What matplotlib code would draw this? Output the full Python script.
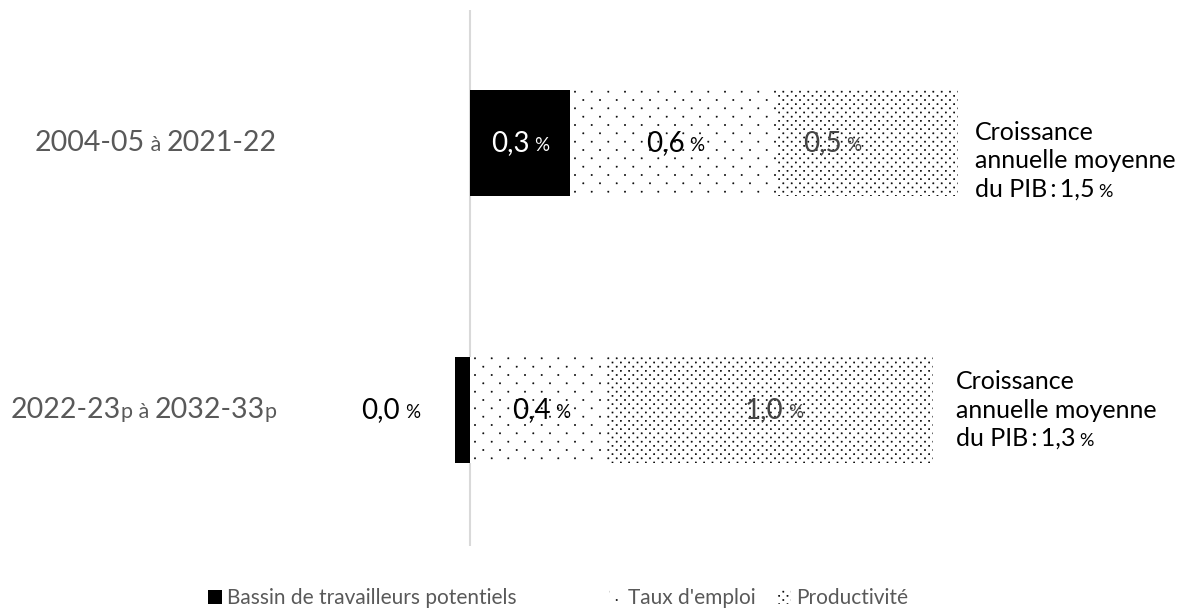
import numpy as np
import matplotlib
matplotlib.use("Agg")
import matplotlib.pyplot as plt
from matplotlib import hatch as mhatch
from matplotlib.path import Path
from matplotlib.offsetbox import TextArea, HPacker, VPacker, AnnotationBbox
from matplotlib.patches import Patch

plt.rcParams["font.family"] = ["Lato", "DejaVu Sans"]
plt.rcParams["hatch.linewidth"] = 0.4

# Data: contributions to average annual GDP growth (percentage points)
periods = [("2004-05", "à", "2021-22", ""), ("2022-23", "à", "2032-33", "p")]
bassin = [0.30, -0.045]       # Bassin de travailleurs potentiels
taux_emploi = [0.62, 0.41]    # Taux d'emploi
productivite = [0.545, 0.98]  # Productivité
series_names = ["Bassin de travailleurs potentiels", "Taux d'emploi", "Productivité"]

GRAY = "#595959"


class StaggeredDots(mhatch.HatchPatternBase):
    """Small square dots: n per inch along a row, 2n staggered rows per inch."""

    def __init__(self, hatch, density):
        self.n = hatch.count(".") * density
        if self.n:
            rows = 2 * self.n
            self.num_shapes = (rows // 2 + 1) * (self.n + 1) + (rows // 2) * self.n
        else:
            self.num_shapes = 0
        self.num_vertices = self.num_shapes * 5

    def set_vertices_and_codes(self, vertices, codes):
        n = self.n
        rows = 2 * n
        d = 0.0055
        square = np.array([[-d, -d], [d, -d], [d, d], [-d, d], [-d, -d]])
        square_codes = [Path.MOVETO, Path.LINETO, Path.LINETO, Path.LINETO, Path.CLOSEPOLY]
        k = 0
        for r in range(rows + 1):
            y = r / rows
            if r % 2 == 0:
                xs = np.linspace(0, 1, n + 1)
            else:
                xs = np.linspace(0.5 / n, 1 - 0.5 / n, n)
            for x in xs:
                vertices[k:k + 5] = square + (x, y)
                codes[k:k + 5] = square_codes
                k += 5


mhatch._hatch_types = [StaggeredDots if t is mhatch.SmallFilledCircles else t
                       for t in mhatch._hatch_types]


def fmt(v):
    r = round(v, 1)
    if r == 0:
        r = 0.0
    return f"{abs(r):.1f}".replace(".", ",")


def rich(pieces, sep=0):
    areas = [TextArea(t, textprops=dict(fontsize=s, color=c)) for t, s, c in pieces]
    return HPacker(children=areas, align="baseline", pad=0, sep=sep)


fig = plt.figure(figsize=(11.86, 6.12), dpi=100)
ax = fig.add_axes([0, 0, 1, 1])
ax.set_axis_off()

# 333 px per percentage point, zero line at 470 px
ax.set_xlim(-470 / 333, (1186 - 470) / 333)
ax.set_ylim((612 - 143) / 267, -143 / 267)

ypos = list(range(len(bassin)))
h = 0.40

# zero line
ax.plot([0, 0], [-0.50, 1.51], color="#d9d9d9", lw=1.5, zorder=1, solid_capstyle="butt")

ax.barh(ypos, bassin, height=h, color="black", lw=0, zorder=2)
left2 = [max(b, 0) for b in bassin]
ax.barh(ypos, taux_emploi, left=left2, height=h, color="white",
        edgecolor="black", hatch=".", lw=0, zorder=2)
left3 = [l + t for l, t in zip(left2, taux_emploi)]
ax.barh(ypos, productivite, left=left3, height=h, color="white",
        edgecolor="black", hatch="..", lw=0, zorder=2)

# label nudges (pixels) for [bassin, taux, productivité] in each row
label_nudge = [[0, 2, -35], [0, 3, 4]]
note_offsets = [(17, -18), (23, 0)]

for i in ypos:
    # segment value labels
    segs = [(0, bassin[i], "white"),
            (left2[i], taux_emploi[i], "black"),
            (left3[i], productivite[i], "#444444")]
    for j, (start, val, col) in enumerate(segs):
        if val >= 0.1:
            xy, align, off = (start + val / 2, i), (0.5, 0.5), (label_nudge[i][j], 0)
        else:
            col = "black"
            xy, align, off = (min(val, 0), i), (1.0, 0.5), (-35, 0)
        box = rich([(fmt(val), 20, col), ("%", 13.5, col)], sep=3.5)
        ax.add_artist(AnnotationBbox(box, xy, xybox=off, xycoords="data",
                                     boxcoords="offset pixels", box_alignment=align,
                                     frameon=False, pad=0, zorder=5))

    # average GDP growth note on the right
    total = bassin[i] + taux_emploi[i] + productivite[i]
    end = left3[i] + productivite[i]
    lines = [rich([("Croissance", 18, "black")]),
             rich([("annuelle moyenne", 18, "black")]),
             rich([(f"du PIB\u2009:\u2009{fmt(total)}", 18, "black"), ("%", 13, "black")],
                  sep=3)]
    vbox = VPacker(children=lines, align="left", pad=0, sep=4)
    ax.add_artist(AnnotationBbox(vbox, (end, i), xybox=note_offsets[i], xycoords="data",
                                 boxcoords="offset pixels", box_alignment=(0, 0.5),
                                 frameon=False, pad=0))

    # category label
    a, mid, b, suf = periods[i]
    pieces = [(a, 20.5, GRAY)]
    if suf:
        pieces.append((suf, 15.5, GRAY))
    pieces.append((" " + mid + " ", 15.5, GRAY))
    pieces.append((b, 20.5, GRAY))
    if suf:
        pieces.append((suf, 15.5, GRAY))
    ax.add_artist(AnnotationBbox(rich(pieces), (277 / 1186, i),
                                 xycoords=("figure fraction", "data"),
                                 box_alignment=(1.0, 0.5), frameon=False, pad=0))

# legend, one entry per series
handles = [Patch(facecolor="black", edgecolor="none"),
           Patch(facecolor="white", edgecolor="black", hatch=".", lw=0),
           Patch(facecolor="white", edgecolor="black", hatch="..", lw=0)]
legend_x = [208, 609, 777]
for hnd, name, x in zip(handles, series_names, legend_x):
    fig.legend([hnd], [name], loc="center left", bbox_to_anchor=(x / 1186, 1 - 598 / 612),
               frameon=False, fontsize=15, handlelength=0.67, handleheight=0.67,
               handletextpad=0.25, borderpad=0, borderaxespad=0, labelcolor=GRAY)

fig.savefig("out.png", dpi=100, facecolor="white")
